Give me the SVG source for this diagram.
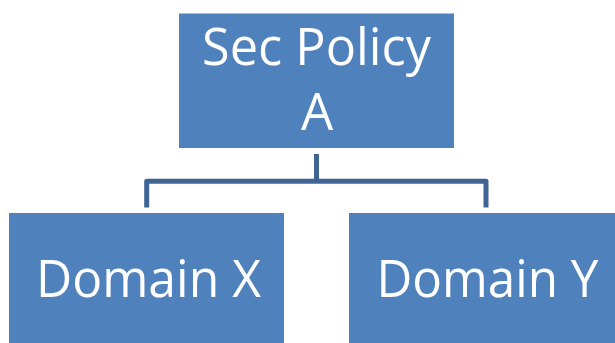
<svg xmlns="http://www.w3.org/2000/svg" width="615" height="343" viewBox="0 0 615 343">
<style>
.box{fill:#4F81BD;}
.lbl{fill:#FFFFFF;font-family:"Open Sans","Noto Sans","Liberation Sans",sans-serif;font-size:51px;text-anchor:middle;}
.conn{fill:none;stroke:#3F6597;stroke-width:5;stroke-linejoin:round;}
</style>
<rect width="615" height="343" fill="#FFFFFF"/>
<g id="connectors">
<path class="conn" d="M316.5,154 V181.3 M146.7,207.5 V181.3 H486 V207.5"/>
</g>
<g id="node-sec-policy">
<rect class="box" x="179" y="13.5" width="275" height="134.5"/>
<text class="lbl" x="316.5" y="65" textLength="229" lengthAdjust="spacingAndGlyphs">Sec Policy</text>
<text class="lbl" x="317" y="130">A</text>
</g>
<g id="node-domain-x">
<rect class="box" x="9" y="213" width="275" height="134.5"/>
<text class="lbl" x="148.5" y="297" textLength="225" lengthAdjust="spacingAndGlyphs">Domain X</text>
</g>
<g id="node-domain-y">
<rect class="box" x="349" y="213" width="275" height="134.5"/>
<text class="lbl" x="487.5" y="297" textLength="222" lengthAdjust="spacingAndGlyphs">Domain Y</text>
</g>
</svg>
